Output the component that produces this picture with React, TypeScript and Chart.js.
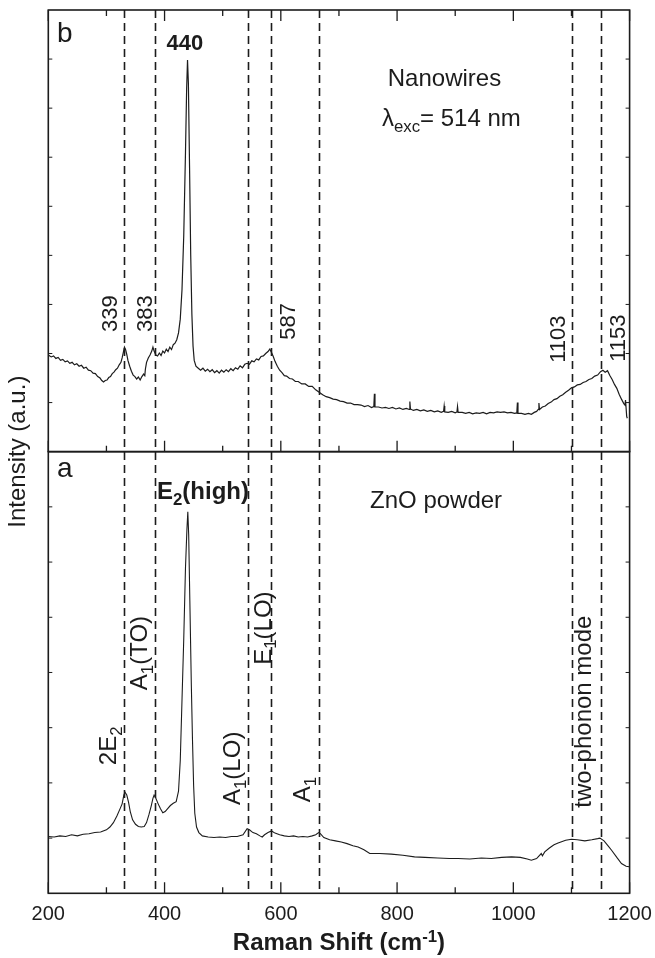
import React, { useEffect, useRef } from "react";
import { Chart, registerables } from "chart.js";

Chart.register(...registerables);

// ---------- DATA ----------
// (b) ZnO nanowires, excitation 514 nm  — Raman shift (cm-1) and intensity (a.u., panel units)
const nanowireShift = [
  200, 205, 209, 213, 217, 221, 225, 229, 233, 237, 241, 245, 249, 253, 257, 261, 265, 269, 273, 277,
  281, 285, 289, 292, 295, 298, 301, 304, 307, 310, 313, 316, 319, 322, 325, 327, 329, 331, 333, 335,
  337, 340, 343, 346, 349, 352, 355, 358, 361, 364, 366, 367, 369, 372, 375, 378, 380, 382, 385, 388,
  391, 394, 397, 400, 403, 406, 409, 412, 415, 418, 421, 424, 427, 430, 433, 436, 438, 439.5, 441, 443,
  445, 447, 449, 451, 454, 458, 462, 466, 470, 474, 478, 482, 486, 490, 494, 498, 502, 506, 510, 514,
  518, 522, 526, 530, 534, 538, 542, 546, 550, 554, 558, 562, 566, 570, 574, 578, 581, 584, 587, 590,
  594, 598, 602, 606, 610, 615, 620, 625, 630, 636, 642, 648, 654, 660, 666, 672, 678, 684, 690, 696,
  702, 708, 714, 720, 726, 732, 738, 744, 750, 756, 760, 761, 762, 768, 774, 780, 786, 792, 798, 804,
  810, 816, 821, 822, 823, 828, 834, 840, 846, 852, 858, 864, 870, 876, 880, 881, 882, 888, 894, 900,
  903, 904, 905, 912, 918, 924, 930, 936, 942, 948, 954, 960, 966, 972, 978, 984, 990, 996, 1002, 1006,
  1007, 1008, 1014, 1020, 1026, 1031, 1036, 1040, 1043, 1044, 1045, 1050, 1055, 1060, 1065, 1070, 1075, 1080, 1085, 1090,
  1095, 1100, 1105, 1110, 1115, 1120, 1125, 1130, 1135, 1140, 1145, 1150, 1154, 1158, 1162, 1166, 1170, 1174, 1178, 1182,
  1186, 1190, 1192, 1193, 1195, 1196,
];
const nanowireIntensity = [
  1.97, 1.93, 1.95, 1.90, 1.92, 1.86, 1.88, 1.83, 1.85, 1.80, 1.82, 1.77, 1.79, 1.74, 1.76, 1.70, 1.72, 1.66, 1.65, 1.60,
  1.59, 1.53, 1.50, 1.45, 1.42, 1.45, 1.46, 1.51, 1.53, 1.59, 1.62, 1.67, 1.70, 1.77, 1.82, 1.91, 2.02, 2.13, 2.08, 1.98,
  1.86, 1.74, 1.64, 1.56, 1.53, 1.48, 1.52, 1.46, 1.53, 1.58, 1.55, 1.68, 1.82, 1.91, 1.97, 2.05, 2.13, 2.05, 1.97, 1.95,
  2.01, 1.96, 2.05, 2.01, 2.09, 2.04, 2.13, 2.08, 2.18, 2.21, 2.28, 2.42, 2.70, 3.30, 4.40, 6.10, 7.40, 7.98, 7.50, 5.80,
  4.00, 2.80, 2.15, 1.86, 1.74, 1.70, 1.66, 1.70, 1.64, 1.68, 1.63, 1.67, 1.61, 1.65, 1.60, 1.66, 1.62, 1.67, 1.63, 1.69,
  1.65, 1.71, 1.68, 1.75, 1.71, 1.78, 1.80, 1.78, 1.85, 1.83, 1.89, 1.87, 1.94, 1.95, 2.00, 2.04, 2.09, 2.02, 1.94, 1.84,
  1.74, 1.66, 1.61, 1.55, 1.54, 1.49, 1.48, 1.43, 1.43, 1.38, 1.38, 1.33, 1.33, 1.26, 1.21, 1.16, 1.12, 1.10, 1.07, 1.06,
  1.03, 1.02, 0.99, 0.99, 0.96, 0.96, 0.95, 0.92, 0.94, 0.90, 0.92, 1.18, 0.91, 0.91, 0.89, 0.90, 0.88, 0.90, 0.87, 0.89,
  0.86, 0.88, 0.86, 1.02, 0.87, 0.84, 0.86, 0.83, 0.85, 0.82, 0.84, 0.81, 0.83, 0.80, 0.82, 0.93, 0.81, 0.80, 0.82, 0.79,
  0.81, 0.92, 0.80, 0.80, 0.78, 0.80, 0.77, 0.79, 0.78, 0.80, 0.77, 0.80, 0.79, 0.81, 0.80, 0.81, 0.79, 0.80, 0.78, 0.79,
  1.00, 0.78, 0.78, 0.76, 0.78, 0.76, 0.80, 0.82, 0.86, 0.99, 0.86, 0.91, 0.93, 0.98, 1.01, 1.06, 1.08, 1.13, 1.16, 1.21,
  1.25, 1.30, 1.32, 1.36, 1.37, 1.41, 1.43, 1.47, 1.49, 1.54, 1.56, 1.63, 1.66, 1.62, 1.65, 1.55, 1.47, 1.37, 1.29, 1.17,
  1.07, 0.98, 0.95, 1.05, 0.72, 0.68,
];

// (a) ZnO powder
const powderShift = [
  200, 210, 220, 230, 240, 250, 260, 270, 280, 290, 300, 306, 312, 318, 323, 327, 330, 332, 335, 338,
  341, 345, 350, 355, 360, 365, 369, 373, 377, 380, 382, 385, 389, 393, 397, 401, 405, 410, 415, 420,
  424, 427, 430, 433, 436, 438.5, 440, 441.5, 443.5, 446, 448, 450, 452, 455, 459, 465, 475, 485, 495, 505,
  515, 525, 535, 542, 546, 552, 558, 564, 568, 572, 578, 584, 590, 598, 606, 614, 622, 630, 638, 646,
  654, 660, 665, 668, 674, 684, 694, 704, 714, 724, 733, 743, 753, 770, 790, 810, 830, 848, 870, 890,
  905, 925, 945, 962, 980, 997, 1012, 1024, 1031, 1040, 1048, 1050, 1054, 1062, 1070, 1077, 1090, 1100, 1110, 1123,
  1135, 1145, 1149, 1156, 1163, 1169, 1178, 1186, 1194, 1199,
];
const powderIntensity = [
  1.03, 1.02, 1.04, 1.03, 1.06, 1.04, 1.07, 1.08, 1.10, 1.11, 1.15, 1.20, 1.28, 1.40, 1.52, 1.62, 1.78, 1.83, 1.78, 1.65,
  1.48, 1.33, 1.25, 1.21, 1.20, 1.21, 1.28, 1.42, 1.58, 1.72, 1.78, 1.72, 1.62, 1.53, 1.46, 1.48, 1.53, 1.59, 1.63, 1.66,
  1.85, 2.40, 3.50, 4.60, 5.90, 6.60, 6.91, 6.50, 5.30, 3.80, 2.80, 1.95, 1.45, 1.20, 1.10, 1.04, 1.02, 1.01, 1.02, 1.01,
  1.03, 1.03, 1.06, 1.17, 1.15, 1.10, 1.08, 1.04, 1.02, 1.06, 1.10, 1.13, 1.09, 1.06, 1.04, 1.03, 1.04, 1.02, 1.03, 1.02,
  1.04, 1.06, 1.10, 1.08, 1.01, 0.97, 0.95, 0.93, 0.90, 0.86, 0.84, 0.79, 0.72, 0.72, 0.71, 0.69, 0.66, 0.65, 0.64, 0.63,
  0.63, 0.62, 0.64, 0.63, 0.65, 0.66, 0.65, 0.62, 0.60, 0.63, 0.72, 0.68, 0.75, 0.82, 0.88, 0.91, 0.96, 0.98, 0.97, 0.95,
  0.97, 0.99, 1.00, 0.95, 0.86, 0.78, 0.65, 0.54, 0.49, 0.48,
];

// Phonon-mode reference lines (cm-1)
const modeLines = [330, 383.5, 544, 583, 666, 1101, 1150];
// Axis ticks
const xMajorTicks = [200, 400, 600, 800, 1000, 1200];
const xMinorTicks = [300, 500, 700, 900, 1100];
const xTickLabels = ["200", "400", "600", "800", "1000", "1200"];
const xTitle = "Raman Shift (cm";
const yTitle = "Intensity (a.u.)";

// ---------- STYLE / LAYOUT ----------
const FONT = '"Liberation Sans", Arial, Helvetica, sans-serif';
const INK = "#1c1c1c";

type Seg = { t: string; sub?: boolean; sup?: boolean };
type Note = {
  segs: Seg[];
  x: number;
  y: number;
  panel: "a" | "b";
  size: number;
  bold?: boolean;
  align?: "left" | "center";
  rotated?: boolean;
};

const notes: Note[] = [
  { segs: [{ t: "b" }], x: 215, y: 8.35, panel: "b", size: 28 },
  { segs: [{ t: "440" }], x: 435, y: 8.19, panel: "b", size: 22, bold: true, align: "center" },
  { segs: [{ t: "Nanowires" }], x: 784, y: 7.45, panel: "b", size: 24 },
  { segs: [{ t: "λ" }, { t: "exc", sub: true }, { t: "= 514 nm" }], x: 774, y: 6.64, panel: "b", size: 24 },
  { segs: [{ t: "339" }], x: 318, y: 2.44, panel: "b", size: 22, rotated: true },
  { segs: [{ t: "383" }], x: 378.4, y: 2.44, panel: "b", size: 22, rotated: true },
  { segs: [{ t: "587" }], x: 624.4, y: 2.28, panel: "b", size: 22, rotated: true },
  { segs: [{ t: "1103" }], x: 1089, y: 1.81, panel: "b", size: 22, rotated: true },
  { segs: [{ t: "1153" }], x: 1192, y: 1.83, panel: "b", size: 22, rotated: true },

  { segs: [{ t: "a" }], x: 215, y: 7.54, panel: "a", size: 28 },
  { segs: [{ t: "E" }, { t: "2", sub: true }, { t: "(high)" }], x: 387, y: 7.14, panel: "a", size: 24, bold: true },
  { segs: [{ t: "ZnO powder" }], x: 753.5, y: 6.98, panel: "a", size: 24 },
  { segs: [{ t: "2E" }, { t: "2", sub: true }], x: 317.3, y: 2.32, panel: "a", size: 24, rotated: true },
  { segs: [{ t: "A" }, { t: "1", sub: true }, { t: "(TO)" }], x: 370.6, y: 3.68, panel: "a", size: 24, rotated: true },
  { segs: [{ t: "A" }, { t: "1", sub: true }, { t: "(LO)" }], x: 529.8, y: 1.6, panel: "a", size: 24, rotated: true },
  { segs: [{ t: "E" }, { t: "1", sub: true }, { t: "(LO)" }], x: 582.3, y: 4.14, panel: "a", size: 24, rotated: true },
  { segs: [{ t: "A" }, { t: "1", sub: true }], x: 650.2, y: 1.65, panel: "a", size: 24, rotated: true },
  { segs: [{ t: "two-phonon mode" }], x: 1133.6, y: 1.55, panel: "a", size: 24, rotated: true },
];

function segFont(s: Seg, size: number, bold?: boolean) {
  const fs = s.sub || s.sup ? size * 0.7 : size;
  return `${bold ? "bold " : ""}${fs}px ${FONT}`;
}
function richWidth(ctx: CanvasRenderingContext2D, segs: Seg[], size: number, bold?: boolean) {
  let w = 0;
  for (const s of segs) {
    ctx.font = segFont(s, size, bold);
    w += ctx.measureText(s.t).width;
  }
  return w;
}
function drawRich(ctx: CanvasRenderingContext2D, segs: Seg[], x: number, y: number, size: number, bold?: boolean) {
  let cx = x;
  for (const s of segs) {
    ctx.font = segFont(s, size, bold);
    const dy = s.sub ? size * 0.24 : s.sup ? -size * 0.36 : 0;
    ctx.fillText(s.t, cx, y + dy);
    cx += ctx.measureText(s.t).width;
  }
}

const decorPlugin = {
  id: "ramanDecor",
  afterDatasetsDraw(chart: any) {
    const ctx: CanvasRenderingContext2D = chart.ctx;
    const xs = chart.scales.x;
    const ya = chart.scales.ya;
    const yb = chart.scales.yb;
    const L = chart.chartArea.left;
    const R = chart.chartArea.right;
    const top = yb.top;
    const mid = yb.bottom;
    const bot = ya.bottom;

    ctx.save();
    ctx.strokeStyle = INK;
    ctx.fillStyle = INK;

    // dashed mode lines
    ctx.lineWidth = 1.6;
    ctx.setLineDash([8, 5]);
    for (const v of modeLines) {
      const px = Math.round(xs.getPixelForValue(v)) + 0.5;
      ctx.beginPath();
      ctx.moveTo(px, top);
      ctx.lineTo(px, bot);
      ctx.stroke();
    }
    ctx.setLineDash([]);

    // frames
    ctx.lineWidth = 1.6;
    ctx.strokeRect(L, top, R - L, mid - top);
    ctx.strokeRect(L, ya.top, R - L, bot - ya.top);

    // x ticks
    ctx.lineWidth = 1.3;
    const tick = (v: number, len: number) => {
      const px = xs.getPixelForValue(v);
      ctx.beginPath();
      ctx.moveTo(px, top);
      ctx.lineTo(px, top + len);
      ctx.moveTo(px, mid);
      ctx.lineTo(px, mid - len);
      ctx.moveTo(px, bot);
      ctx.lineTo(px, bot - len);
      ctx.stroke();
    };
    xMajorTicks.forEach((v) => tick(v, 11));
    xMinorTicks.forEach((v) => tick(v, 6));

    // y ticks
    ctx.lineWidth = 1;
    for (let k = 1; k < 9; k++) {
      const py = yb.getPixelForValue(k);
      ctx.beginPath();
      ctx.moveTo(L, py);
      ctx.lineTo(L + 4, py);
      ctx.moveTo(R, py);
      ctx.lineTo(R - 4, py);
      ctx.stroke();
    }
    for (let k = 1; k < 8; k++) {
      const py = ya.getPixelForValue(k);
      ctx.beginPath();
      ctx.moveTo(L, py);
      ctx.lineTo(L + 4, py);
      ctx.moveTo(R, py);
      ctx.lineTo(R - 4, py);
      ctx.stroke();
    }

    // annotations
    ctx.textBaseline = "alphabetic";
    ctx.textAlign = "left";
    for (const n of notes) {
      const ys = n.panel === "a" ? ya : yb;
      const px = xs.getPixelForValue(n.x);
      const py = ys.getPixelForValue(n.y);
      if (n.rotated) {
        ctx.save();
        ctx.translate(px, py);
        ctx.rotate(-Math.PI / 2);
        drawRich(ctx, n.segs, 0, 0, n.size, n.bold);
        ctx.restore();
      } else {
        let sx = px;
        if (n.align === "center") sx = px - richWidth(ctx, n.segs, n.size, n.bold) / 2;
        drawRich(ctx, n.segs, sx, py, n.size, n.bold);
      }
    }

    // x tick labels
    ctx.font = `20px ${FONT}`;
    ctx.textAlign = "center";
    xMajorTicks.forEach((v, i) => {
      ctx.fillText(xTickLabels[i], xs.getPixelForValue(v), bot + 27);
    });

    // x title with superscript
    ctx.textAlign = "left";
    const tSegs: Seg[] = [{ t: xTitle }, { t: "-1", sup: true }, { t: ")" }];
    const tw = richWidth(ctx, tSegs, 24, true);
    drawRich(ctx, tSegs, (L + R) / 2 - tw / 2, bot + 57, 24, true);

    // y title
    ctx.save();
    ctx.font = `24px ${FONT}`;
    ctx.textAlign = "center";
    ctx.translate(L - 23, (top + bot) / 2);
    ctx.rotate(-Math.PI / 2);
    ctx.fillText(yTitle, 0, 0);
    ctx.restore();

    ctx.restore();
  },
};

export default function App() {
  const canvasRef = useRef<HTMLCanvasElement | null>(null);

  useEffect(() => {
    const canvas = canvasRef.current;
    if (!canvas) return;
    const nanowirePoints = nanowireShift.map((x, i) => ({ x, y: nanowireIntensity[i] }));
    const powderPoints = powderShift.map((x, i) => ({ x, y: powderIntensity[i] }));

    const chart = new Chart(canvas, {
      type: "line",
      data: {
        datasets: [
          {
            label: "ZnO powder",
            data: powderPoints,
            xAxisID: "x",
            yAxisID: "ya",
            borderColor: INK,
            borderWidth: 1.1,
            pointRadius: 0,
            fill: false,
            tension: 0,
          },
          {
            label: "Nanowires",
            data: nanowirePoints,
            xAxisID: "x",
            yAxisID: "yb",
            borderColor: INK,
            borderWidth: 1.2,
            pointRadius: 0,
            fill: false,
            tension: 0,
          },
        ],
      },
      options: {
        responsive: false,
        maintainAspectRatio: false,
        animation: false,
        devicePixelRatio: 1,
        events: [],
        layout: { padding: { left: 48.3, right: 25.4, top: 10, bottom: 64.7 } },
        plugins: { legend: { display: false }, tooltip: { enabled: false } },
        scales: {
          x: { type: "linear", min: 200, max: 1200, display: false },
          ya: { type: "linear", position: "left", min: 0, max: 8, display: false, stack: "panels", stackWeight: 1 },
          yb: { type: "linear", position: "left", min: 0, max: 9, display: false, stack: "panels", stackWeight: 1 },
        },
      },
      plugins: [decorPlugin],
    } as any);

    return () => chart.destroy();
  }, []);

  return (
    <div style={{ position: "fixed", left: 0, top: 0, width: 655, height: 958, background: "#fff" }}>
      <canvas ref={canvasRef} width={655} height={958} style={{ width: 655, height: 958, display: "block" }} />
    </div>
  );
}
